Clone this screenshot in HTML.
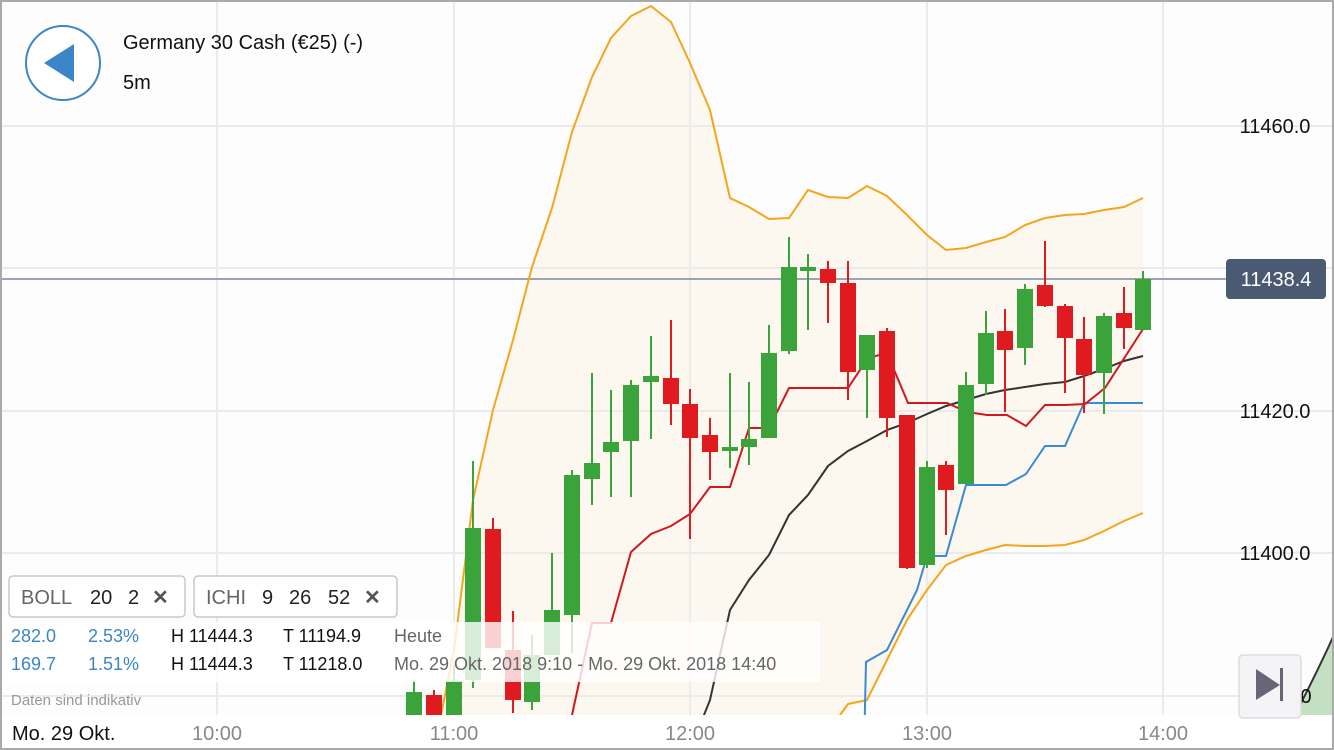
<!DOCTYPE html>
<html><head><meta charset="utf-8"><style>
html,body{margin:0;padding:0;background:#fff}
body{width:1334px;height:750px;overflow:hidden;position:relative;font-family:"Liberation Sans",Arial,sans-serif}
</style></head><body>
<svg width="1334" height="750" viewBox="0 0 1334 750" xmlns="http://www.w3.org/2000/svg" style="position:absolute;left:0;top:0;font-family:'Liberation Sans',Arial,sans-serif">
<rect x="0" y="0" width="1334" height="750" fill="#fdfdfd"/>
<!-- band fill -->
<polygon fill="#fdf8ef" points="434,750 454,650 473,500 493,410 513,340 532,267 552,208 572,132 592,77 611,38 631,16 651,6 671,22 690,63 710,110 730,198 749,207 769,219 789,218 808,190 828,197 848,198 867,186 887,196 907,215 927,235 946,250 966,248 986,242 1005,237 1025,225 1045,218 1065,215 1084,214 1104,210 1124,207 1143,198 1143,513 1124,521 1104,531 1084,540 1065,545 1045,546 1025,546 1005,545 986,550 966,556 946,565 927,590 907,620 887,660 867,700 848,710 840,750"/>
<!-- grid -->
<g stroke="#ebebeb" stroke-width="2">
<line x1="0" y1="126" x2="1334" y2="126"/><line x1="0" y1="268" x2="1334" y2="268"/>
<line x1="0" y1="411" x2="1334" y2="411"/><line x1="0" y1="553" x2="1334" y2="553"/>
<line x1="0" y1="696" x2="1334" y2="696"/>
<line x1="217" y1="0" x2="217" y2="715"/><line x1="454" y1="0" x2="454" y2="715"/>
<line x1="690" y1="0" x2="690" y2="715"/><line x1="927" y1="0" x2="927" y2="715"/>
<line x1="1163" y1="0" x2="1163" y2="715"/>
</g>
<!-- green cloud right -->
<path d="M1300,715 L1300,705 Q1318,670 1334,635 L1334,715 Z" fill="#c3e0c3"/>
<path d="M1300,705 Q1318,670 1334,635" fill="none" stroke="#333" stroke-width="2"/>
<!-- price line -->
<line x1="0" y1="279" x2="1226" y2="279" stroke="#9aa3b3" stroke-width="2"/>
<!-- bands -->
<g fill="none" stroke="#f5a51d" stroke-width="2">
<polyline points="434,750 454,650 473,500 493,410 513,340 532,267 552,208 572,132 592,77 611,38 631,16 651,6 671,22 690,63 710,110 730,198 749,207 769,219 789,218 808,190 828,197 848,198 867,186 887,196 907,215 927,235 946,250 966,248 986,242 1005,237 1025,225 1045,218 1065,215 1084,214 1104,210 1124,207 1143,198"/>
<polyline points="840,715 848,704 867,700 887,660 907,620 927,590 946,565 966,556 986,550 1005,545 1025,546 1045,546 1065,545 1084,540 1104,531 1124,521 1143,513"/>
</g>
<!-- ichimoku -->
<polyline fill="none" stroke="#333" stroke-width="2" points="690,750 710,700 730,610 749,580 769,555 789,515 808,495 828,466 848,451 867,441 887,430 907,423 927,414 946,406 966,400 986,394 1005,390 1025,387 1045,384 1065,382 1084,376 1104,369 1124,361 1143,356"/>
<polyline fill="none" stroke="#3a8ad6" stroke-width="2" points="864,750 866,662 887,650 907,610 917,590 927,556 946,556 966,485 1006,485 1026,474 1045,446 1065,446 1084,403 1143,403"/>
<polyline fill="none" stroke="#d0181e" stroke-width="2" points="572,715 592,623 611,623 631,552 651,534 671,526 690,514 710,487 730,487 749,428 769,428 789,388 848,388 868,358 887,353 908,403 947,403 967,412 987,415 1007,415 1026,426 1045,405 1065,405 1085,404 1105,388 1143,329"/>
<!-- candles -->
<g id="c"></g>
<!-- overlay for info -->
<rect x="0" y="622" width="820" height="60" fill="#fff" opacity="0.8"/>
<!-- axis strip -->
<rect x="0" y="715" width="1334" height="35" fill="#fff"/>
<g font-size="20" fill="#888">
<text x="217" y="740" text-anchor="middle">10:00</text><text x="454" y="740" text-anchor="middle">11:00</text>
<text x="690" y="740" text-anchor="middle">12:00</text><text x="927" y="740" text-anchor="middle">13:00</text>
<text x="1163" y="740" text-anchor="middle">14:00</text>
</g>
<text x="12" y="740" font-size="20" fill="#111">Mo. 29 Okt.</text>
<g font-size="20" fill="#111" text-anchor="middle">
<text x="1275" y="133">11460.0</text><text x="1275" y="418">11420.0</text>
<text x="1275" y="560">11400.0</text><text x="1306" y="703">0</text>
</g>
<rect x="1226" y="259" width="100" height="40" rx="4" fill="#4a5a73"/>
<text x="1276" y="286" font-size="20" fill="#fff" text-anchor="middle">11438.4</text>
<!-- header -->
<circle cx="63" cy="63" r="37" fill="#fff" stroke="#3a86c8" stroke-width="2"/>
<polygon points="44,63 74,44 74,82" fill="#3a86c8"/>
<text x="123" y="49" font-size="20" fill="#111">Germany 30 Cash (€25) (-)</text>
<text x="123" y="89" font-size="20" fill="#111">5m</text>
<!-- legend -->
<rect x="9" y="576" width="176" height="41" rx="4" fill="#fff" stroke="#c8c8cc" stroke-width="1.5"/>
<rect x="194" y="576" width="203" height="41" rx="4" fill="#fff" stroke="#c8c8cc" stroke-width="1.5"/>
<g font-size="20">
<text x="21" y="604" fill="#666">BOLL</text><text x="90" y="604" fill="#222">20</text><text x="128" y="604" fill="#222">2</text>
<text x="152" y="604" fill="#555" font-weight="bold">✕</text>
<text x="206" y="604" fill="#666">ICHI</text><text x="262" y="604" fill="#222">9</text><text x="289" y="604" fill="#222">26</text><text x="328" y="604" fill="#222">52</text>
<text x="364" y="604" fill="#555" font-weight="bold">✕</text>
</g>
<g font-size="18">
<text x="11" y="642" fill="#3a86c8">282.0</text><text x="88" y="642" fill="#3a86c8">2.53%</text>
<text x="171" y="642" fill="#111">H 11444.3</text><text x="283" y="642" fill="#111">T 11194.9</text><text x="394" y="642" fill="#666">Heute</text>
<text x="11" y="670" fill="#3a86c8">169.7</text><text x="88" y="670" fill="#3a86c8">1.51%</text>
<text x="171" y="670" fill="#111">H 11444.3</text><text x="283" y="670" fill="#111">T 11218.0</text>
<text x="394" y="670" fill="#666">Mo. 29 Okt. 2018 9:10 - Mo. 29 Okt. 2018 14:40</text>
</g>
<text x="11" y="705" font-size="15" fill="#999">Daten sind indikativ</text>
<!-- skip button -->
<rect x="1239" y="655" width="62" height="63" rx="4" fill="#f4f4f6" stroke="#ddd" stroke-width="1.5"/>
<polygon points="1256,669 1256,700 1280,685" fill="#666677"/>
<rect x="1280" y="668" width="3" height="33" fill="#666677"/>
<!-- frame -->
<rect x="1" y="1" width="1332" height="748" fill="none" stroke="#aaa" stroke-width="2"/>
</svg>
<script>
var d=[[414,'g',692,715,680,715],[434,'r',695,715,690,715],[454,'g',681,715,665,715],[473,'g',528,680,461,688],[493,'r',529,648,518,648],[513,'r',650,700,611,713],[532,'g',655,702,635,710],[552,'g',610,655,553,655],[572,'g',475,615,470,653],[592,'g',463,479,373,505],[611,'g',442,452,390,497],[631,'g',385,441,380,497],[651,'g',376,382,336,439],[671,'r',378,404,320,425],[690,'r',404,438,389,539],[710,'r',435,452,418,480],[730,'g',447,451,373,468],[749,'g',439,447,382,465],[769,'g',353,438,325,438],[789,'g',267,351,237,354],[808,'g',267,271,254,330],[828,'r',269,283,261,323],[848,'r',283,372,261,400],[867,'g',335,370,335,418],[887,'r',331,418,328,437],[907,'r',415,568,415,569],[927,'g',467,565,461,568],[946,'r',465,490,461,535],[966,'g',385,484,372,484],[986,'g',333,384,311,395],[1005,'r',331,350,309,412],[1025,'g',289,348,284,365],[1045,'r',285,306,241,307],[1065,'r',306,338,304,393],[1084,'r',339,375,317,413],[1104,'g',316,373,313,414],[1124,'r',313,328,287,349],[1143,'g',279,330,271,330]];
var s='';d.forEach(function(c){var col=c[1]=='g'?'#3aa33a':'#e01b1f';s+='<line x1="'+c[0]+'" x2="'+c[0]+'" y1="'+c[4]+'" y2="'+c[5]+'" stroke="'+col+'" stroke-width="2"/><rect x="'+(c[0]-8)+'" y="'+c[2]+'" width="16" height="'+Math.max(3,c[3]-c[2])+'" fill="'+col+'"/>';});
document.getElementById('c').innerHTML=s;
</script>
</body></html>
